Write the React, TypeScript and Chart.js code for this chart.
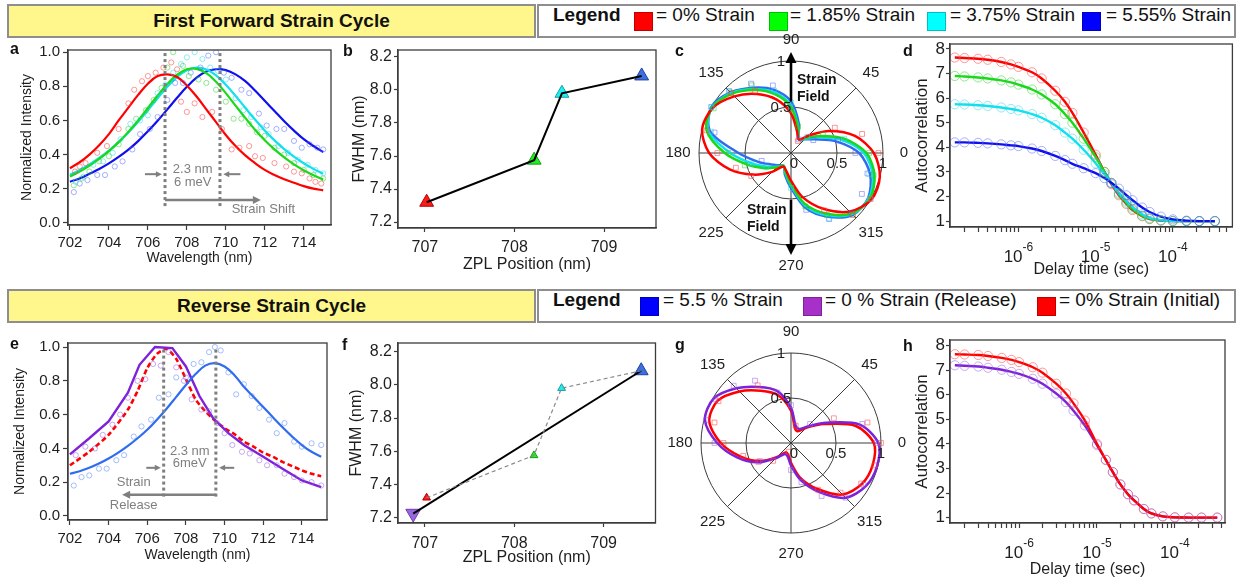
import React, { useEffect, useRef } from 'react';
import { Chart, registerables } from 'chart.js';

Chart.register(...registerables);

const FONT = "'Liberation Sans', Arial, Helvetica, sans-serif";
const INK = '#1e1e1e';
const AXIS = '#3c3c3c';
const NOTE = '#7f7f7f';

const RED = '#ff0000';
const GREEN = '#19d919';
const CYAN = '#11e0ee';
const BLUE = '#1010ee';
const BLUE_E = '#2f6cf0';
const PURPLE = '#7d22d8';
const RED_PT = 'rgba(255,70,70,0.55)';
const GREEN_PT = 'rgba(40,210,40,0.5)';
const CYAN_PT = 'rgba(40,215,235,0.5)';
const BLUE_PT = 'rgba(80,100,255,0.5)';
const BLUE_E_PT = 'rgba(80,130,250,0.5)';
const PURPLE_PT = 'rgba(150,90,230,0.5)';

// ---------------- legends ----------------
const LEGEND_FWD_TEXT = ['= 0% Strain', '= 1.85% Strain', '= 3.75% Strain', '= 5.55% Strain'];
const LEGEND_FWD_COLOR = ['#ff0000', '#00ff00', '#00ffff', '#0000ff'];
const LEGEND_REV_TEXT = ['= 5.5 % Strain', '= 0 % Strain (Release)', '= 0% Strain (Initial)'];
const LEGEND_REV_COLOR = ['#0000ff', '#a630c8', '#ff0000'];

// ---------------- panel a : spectra (forward cycle) ----------------
const WL_FIT = [702, 702.5, 703, 703.5, 704, 704.5, 705, 705.5, 706, 706.5, 707, 707.5, 708, 708.5, 709, 709.5, 710, 710.5, 711, 711.5, 712, 712.5, 713, 713.5, 714, 714.5, 715];
const A_FIT_RED = [0.32, 0.355, 0.40, 0.455, 0.52, 0.60, 0.675, 0.75, 0.815, 0.86, 0.87, 0.855, 0.805, 0.74, 0.665, 0.59, 0.515, 0.45, 0.395, 0.35, 0.31, 0.28, 0.255, 0.235, 0.215, 0.20, 0.19];
const A_FIT_GREEN = [0.272, 0.30, 0.335, 0.374, 0.42, 0.473, 0.533, 0.60, 0.673, 0.746, 0.814, 0.868, 0.90, 0.902, 0.877, 0.827, 0.76, 0.687, 0.615, 0.546, 0.484, 0.43, 0.383, 0.342, 0.308, 0.278, 0.253];
const A_FIT_CYAN = [0.282, 0.31, 0.342, 0.38, 0.423, 0.473, 0.529, 0.592, 0.66, 0.73, 0.797, 0.854, 0.894, 0.91, 0.899, 0.864, 0.809, 0.744, 0.674, 0.605, 0.541, 0.483, 0.432, 0.388, 0.349, 0.316, 0.287];
const A_FIT_BLUE = [0.241, 0.26, 0.287, 0.315, 0.348, 0.386, 0.429, 0.479, 0.536, 0.598, 0.665, 0.733, 0.797, 0.851, 0.887, 0.90, 0.895, 0.87, 0.83, 0.775, 0.715, 0.655, 0.595, 0.54, 0.49, 0.45, 0.415];

const A_PTS_RED_X = [702.26, 702.5, 702.8, 703.4, 703.9, 704.5, 705.0, 705.3, 705.7, 706.0, 706.4, 706.8, 707.2, 707.5, 707.7, 708.0, 708.4, 708.8, 709.3, 709.8, 710.3, 710.7, 711.2, 711.5, 711.9, 712.5, 713.1, 713.5, 713.9, 714.3, 714.6, 714.9];
const A_PTS_RED_Y = [0.30, 0.33, 0.35, 0.41, 0.45, 0.55, 0.70, 0.78, 0.83, 0.86, 0.88, 0.91, 0.94, 0.90, 0.71, 0.65, 0.70, 0.62, 0.65, 0.55, 0.43, 0.44, 0.45, 0.39, 0.38, 0.35, 0.33, 0.30, 0.29, 0.26, 0.24, 0.23];
const A_PTS_GREEN_X = [702.2, 702.6, 703.0, 703.5, 704.0, 704.5, 705.0, 705.4, 705.9, 706.3, 706.7, 707.0, 707.3, 707.8, 708.1, 708.6, 709.0, 709.5, 710.0, 710.4, 710.8, 711.2, 711.6, 712.0, 712.5, 713.0, 713.5, 714.0, 714.5, 715.0];
const A_PTS_GREEN_Y = [0.22, 0.26, 0.30, 0.36, 0.39, 0.46, 0.55, 0.61, 0.66, 0.72, 0.79, 0.91, 1.0, 0.92, 0.86, 0.84, 0.82, 0.78, 0.71, 0.61, 0.61, 0.58, 0.53, 0.51, 0.44, 0.40, 0.35, 0.31, 0.28, 0.26];
const A_PTS_CYAN_X = [702.3, 702.7, 703.2, 703.7, 704.2, 704.6, 705.1, 705.6, 706.0, 706.5, 706.9, 707.3, 707.7, 708.0, 708.4, 708.8, 709.2, 709.6, 710.0, 710.5, 710.9, 711.3, 711.8, 712.2, 712.7, 713.2, 713.7, 714.2, 714.6, 715.0];
const A_PTS_CYAN_Y = [0.24, 0.27, 0.34, 0.36, 0.41, 0.49, 0.58, 0.60, 0.63, 0.76, 0.81, 0.88, 0.93, 0.97, 1.0, 0.96, 0.91, 0.89, 0.84, 0.73, 0.66, 0.62, 0.56, 0.52, 0.45, 0.41, 0.37, 0.34, 0.31, 0.29];
const A_PTS_BLUE_X = [702.2, 702.5, 702.9, 703.4, 703.8, 704.3, 704.7, 705.2, 705.6, 706.1, 706.5, 707.0, 707.4, 707.8, 708.2, 708.7, 709.1, 709.5, 709.9, 710.3, 710.8, 711.2, 711.7, 712.1, 712.6, 713.0, 713.5, 713.9, 714.3, 714.7, 715.0];
const A_PTS_BLUE_Y = [0.18, 0.23, 0.25, 0.28, 0.28, 0.33, 0.36, 0.43, 0.52, 0.55, 0.62, 0.72, 0.82, 0.82, 0.88, 0.91, 0.98, 1.0, 0.88, 0.85, 0.78, 0.76, 0.64, 0.57, 0.55, 0.55, 0.48, 0.44, 0.46, 0.44, 0.43];

// ---------------- panel e : spectra (reverse cycle) ----------------
const E_FIT_BLUE = [0.25, 0.265, 0.285, 0.31, 0.34, 0.375, 0.415, 0.46, 0.51, 0.57, 0.635, 0.705, 0.775, 0.84, 0.89, 0.905, 0.885, 0.835, 0.765, 0.705, 0.645, 0.585, 0.525, 0.47, 0.42, 0.38, 0.35];
const E_PURPLE_X = [702, 703, 704, 705, 705.6, 706.4, 707.3, 708, 708.7, 709.4, 710.2, 711, 712, 713, 714, 715];
const E_PURPLE_FIT = [0.365, 0.46, 0.56, 0.73, 0.895, 1.0, 0.994, 0.885, 0.71, 0.58, 0.49, 0.42, 0.35, 0.28, 0.21, 0.17];
const E_RED_X = [702, 703, 704, 705, 705.5, 706, 706.5, 707, 707.5, 708, 708.5, 709, 709.5, 710, 710.5, 711, 711.5, 712, 712.5, 713, 713.5, 714, 714.5, 715];
const E_RED_FIT = [0.30, 0.38, 0.48, 0.63, 0.74, 0.875, 0.96, 0.99, 0.93, 0.81, 0.69, 0.62, 0.565, 0.52, 0.485, 0.44, 0.41, 0.375, 0.35, 0.32, 0.295, 0.27, 0.25, 0.235];
const E_PTS_PURPLE_X = [702.3, 702.8, 703.3, 703.7, 704.2, 704.6, 705.0, 705.5, 705.9, 706.3, 706.7, 707.1, 707.5, 707.9, 708.3, 708.8, 709.2, 709.6, 710.0, 710.4, 710.9, 711.3, 711.8, 712.2, 712.7, 713.1, 713.6, 714.0, 714.5, 715.0];
const E_PTS_PURPLE_Y = [0.36, 0.41, 0.40, 0.48, 0.54, 0.60, 0.70, 0.80, 0.81, 0.90, 0.89, 0.97, 0.88, 0.80, 0.69, 0.63, 0.62, 0.55, 0.49, 0.42, 0.38, 0.37, 0.33, 0.30, 0.30, 0.25, 0.23, 0.21, 0.20, 0.18];
const E_PTS_BLUE_X = [702.2, 702.6, 703.0, 703.5, 703.9, 704.4, 704.8, 705.3, 705.7, 706.2, 706.6, 707.1, 707.5, 708.0, 708.4, 708.8, 709.2, 709.5, 709.8, 710.2, 710.6, 711.0, 711.4, 711.8, 712.3, 712.7, 713.1, 713.6, 714.0, 714.5, 715.0];
const E_PTS_BLUE_Y = [0.18, 0.23, 0.24, 0.28, 0.28, 0.33, 0.36, 0.47, 0.53, 0.57, 0.70, 0.72, 0.82, 0.82, 0.90, 0.91, 0.97, 1.0, 0.98, 0.85, 0.72, 0.78, 0.71, 0.64, 0.57, 0.49, 0.55, 0.44, 0.41, 0.43, 0.42];

// ---------------- panels b / f : FWHM vs ZPL ----------------
const ZPL_FWD = [707.02, 708.22, 708.53, 709.42];
const FWHM_FWD = [7.32, 7.575, 7.98, 8.085];
const FWD_MARK_FILL = ['#ff1a1a', '#22ee22', '#22eeee', '#3d6fe0'];
const FWD_MARK_EDGE = ['#b00000', '#10a010', '#10a0a8', '#2040a0'];
const ZPL_RELEASE = [706.87];
const FWHM_RELEASE = [7.225];

// ---------------- panels c / g : polarisation (r vs angle, every 15 deg) ----------------
const POLAR_ANGLES = [0, 15, 30, 45, 60, 75, 90, 105, 120, 135, 150, 165, 180, 195, 210, 225, 240, 255, 270, 285, 300, 315, 330, 345];
const POLAR_LABEL_ANGLES = [0, 45, 90, 135, 180, 225, 270, 315];
const C_RED = [0.90, 0.72, 0.48, 0.27, 0.17, 0.25, 0.43, 0.60, 0.74, 0.87, 0.98, 1.0, 0.89, 0.69, 0.47, 0.29, 0.17, 0.20, 0.30, 0.50, 0.70, 0.90, 1.01, 1.0];
const C_GREEN = [0.82, 0.60, 0.37, 0.23, 0.17, 0.29, 0.50, 0.66, 0.79, 0.91, 0.99, 0.95, 0.72, 0.49, 0.33, 0.22, 0.16, 0.22, 0.34, 0.57, 0.76, 0.93, 0.99, 0.94];
const C_CYAN = [0.79, 0.56, 0.34, 0.22, 0.17, 0.30, 0.52, 0.68, 0.80, 0.92, 0.99, 0.93, 0.66, 0.44, 0.30, 0.21, 0.16, 0.23, 0.35, 0.59, 0.78, 0.94, 0.98, 0.92];
const C_BLUE = [0.74, 0.50, 0.30, 0.21, 0.17, 0.33, 0.56, 0.71, 0.82, 0.93, 1.0, 0.91, 0.57, 0.37, 0.25, 0.19, 0.16, 0.25, 0.38, 0.62, 0.80, 0.95, 0.97, 0.89];
const C_PTS_RED = [0.95, 0.80, 0.55, null, 0.15, null, null, null, 0.78, 0.92, null, 0.95, 0.80, 0.62, 0.50, null, null, null, null, null, 0.72, 0.95, 1.0, null];
const C_PTS_GREEN = [0.85, null, 0.40, null, null, 0.30, 0.47, null, 0.85, 0.93, 0.97, null, 0.68, 0.52, null, null, null, null, null, 0.60, 0.78, 0.95, null, 0.93];
const C_PTS_CYAN = [null, 0.60, null, 0.25, null, null, 0.55, 0.70, null, 0.95, 1.0, 0.90, null, 0.45, 0.31, null, null, null, 0.38, null, 0.82, null, 0.99, 0.88];
const C_PTS_BLUE = [0.70, 0.53, 0.28, null, 0.17, null, 0.50, 0.76, 0.87, 0.95, 1.0, 0.86, null, 0.33, null, null, null, null, null, 0.64, 0.83, 0.93, 0.89, 0.86];
const G_PURPLE = [0.97, 0.79, 0.45, 0.26, 0.18, 0.20, 0.39, 0.60, 0.72, 0.86, 0.99, 0.99, 0.82, 0.62, 0.43, 0.24, 0.14, 0.15, 0.25, 0.43, 0.63, 0.86, 0.96, 0.99];
const G_RED = [0.92, 0.74, 0.42, 0.24, 0.15, 0.17, 0.36, 0.55, 0.67, 0.81, 0.94, 0.94, 0.78, 0.58, 0.40, 0.22, 0.12, 0.13, 0.22, 0.40, 0.59, 0.81, 0.91, 0.94];
const G_PTS_PURPLE = [0.95, 0.82, null, 0.30, null, null, 0.42, 0.58, 0.80, 0.90, 0.97, 0.98, 0.85, null, 0.40, null, null, null, 0.30, 0.45, 0.68, 0.86, 0.93, null];
const G_PTS_RED = [1.0, 0.88, 0.55, null, null, 0.20, null, null, 0.74, null, 0.93, 0.88, 0.75, 0.55, 0.42, 0.28, null, 0.10, null, null, 0.60, 0.78, 0.90, 0.96];
const POLAR_R_TICKS = [0, 0.5, 1];

// ---------------- panels d / h : autocorrelation ----------------
const T_G2 = [1.5e-7, 2e-7, 3e-7, 4e-7, 6e-7, 8e-7, 1e-6, 1.5e-6, 2e-6, 3e-6, 4e-6, 5e-6, 7e-6, 1e-5, 1.3e-5, 1.6e-5, 2e-5, 2.5e-5, 3e-5, 4e-5, 5e-5, 7e-5, 1e-4, 1.5e-4, 2.2e-4, 3.5e-4];
const D_RED = [7.65, 7.63, 7.6, 7.56, 7.47, 7.37, 7.27, 7.05, 6.8, 6.3, 5.85, 5.4, 4.6, 3.7, 3.0, 2.5, 2.05, 1.7, 1.45, 1.2, 1.08, 1.02, 1.0, 1.0, 1.0, 1.0];
const D_GREEN = [6.9, 6.88, 6.84, 6.8, 6.72, 6.64, 6.55, 6.35, 6.15, 5.75, 5.35, 5.0, 4.35, 3.6, 3.0, 2.55, 2.1, 1.75, 1.5, 1.22, 1.1, 1.03, 1.0, 1.0, 1.0, 1.0];
const D_CYAN = [5.75, 5.74, 5.71, 5.68, 5.62, 5.56, 5.5, 5.35, 5.2, 4.9, 4.6, 4.35, 3.9, 3.35, 2.9, 2.55, 2.15, 1.82, 1.58, 1.28, 1.13, 1.04, 1.01, 1.0, 1.0, 1.0];
const D_BLUE = [4.2, 4.2, 4.18, 4.16, 4.12, 4.08, 4.05, 3.95, 3.85, 3.65, 3.48, 3.33, 3.15, 2.95, 2.75, 2.55, 2.32, 2.05, 1.85, 1.55, 1.37, 1.18, 1.07, 1.02, 1.0, 1.0];
const H_RED = [7.65, 7.64, 7.62, 7.58, 7.5, 7.42, 7.33, 7.12, 6.9, 6.45, 6.05, 5.65, 4.95, 4.0, 3.35, 2.85, 2.35, 1.95, 1.7, 1.35, 1.17, 1.05, 1.01, 1.0, 1.0, 1.0];
const H_PURPLE = [7.2, 7.18, 7.15, 7.1, 7.02, 6.93, 6.85, 6.65, 6.45, 6.05, 5.7, 5.35, 4.75, 3.95, 3.35, 2.85, 2.35, 1.95, 1.7, 1.35, 1.17, 1.05, 1.01, 1.0, 1.0, 1.0];
const G2_DECADES = [-6, -5, -4];
const G2_TICKS = [-7, -6, -5, -4].flatMap((e) => [1, 2, 3, 4, 5, 6, 7, 8, 9].map((m) => m * Math.pow(10, e)));

// ---------------- helpers ----------------
type Box = { x: number; y: number; w: number; h: number };
type Area = { l: number; t: number; r: number; b: number };
type AxisOpt = {
  type?: string; min: number; max: number; step?: number; fmt?: (v: number) => string; list?: number[];
  title: string; titleSize: number; titleAt: number; tickSize: number; tickPad: number; tickLen: number;
};

const pts = (xs: number[], ys: number[]) => xs.map((x, i) => ({ x, y: ys[i] }));

const RADAR_ORDER = POLAR_ANGLES.map((_, i) => (POLAR_ANGLES.length - i) % POLAR_ANGLES.length);
const RADAR_LABELS = RADAR_ORDER.map((k) => String(POLAR_ANGLES[k]));
const toRadar = (arr: (number | null)[]) => RADAR_ORDER.map((k) => arr[k]);

function arrow(ctx: any, x1: number, y1: number, x2: number, y2: number, color: string, lw: number, head: number) {
  const a = Math.atan2(y2 - y1, x2 - x1);
  const c = Math.cos(a), s = Math.sin(a);
  ctx.save();
  ctx.strokeStyle = color; ctx.fillStyle = color; ctx.lineWidth = lw; ctx.setLineDash([]);
  ctx.beginPath(); ctx.moveTo(x1, y1); ctx.lineTo(x2 - c * head * 0.8, y2 - s * head * 0.8); ctx.stroke();
  ctx.beginPath();
  ctx.moveTo(x2, y2);
  ctx.lineTo(x2 - head * c + head * 0.5 * s, y2 - head * s - head * 0.5 * c);
  ctx.lineTo(x2 - head * c - head * 0.5 * s, y2 - head * s + head * 0.5 * c);
  ctx.closePath(); ctx.fill();
  ctx.restore();
}

const framePlugin = {
  id: 'frame',
  afterDraw(chart: any) {
    const { ctx, chartArea: a } = chart;
    ctx.save();
    ctx.strokeStyle = AXIS; ctx.lineWidth = 1.3;
    ctx.strokeRect(a.left, a.top, a.right - a.left, a.bottom - a.top);
    ctx.restore();
  },
};

function cartesianConfig(box: Box, area: Area, xo: AxisOpt, yo: AxisOpt, datasets: any[], plugins: any[]) {
  const xH = box.y + box.h - area.b;
  const yW = area.l - box.x;
  const mk = (o: AxisOpt, isX: boolean) => {
    const lh = o.titleSize * 1.2;
    return {
      type: o.type || 'linear',
      position: isX ? 'bottom' : 'left',
      min: o.min,
      max: o.max,
      afterFit: (s: any) => { if (isX) s.height = xH; else s.width = yW; },
      afterBuildTicks: (s: any) => { if (o.list) s.ticks = o.list.filter((v) => v >= o.min && v <= o.max).map((v) => ({ value: v })); },
      grid: { display: true, drawOnChartArea: false, drawTicks: true, tickLength: o.tickLen, tickWidth: 1.2, tickColor: AXIS, color: AXIS },
      border: { display: true, color: AXIS, width: 1.3 },
      ticks: {
        stepSize: o.step, includeBounds: false, autoSkip: false, maxRotation: 0, minRotation: 0,
        padding: o.tickPad, color: INK, font: { family: FONT, size: o.tickSize },
        callback: (v: any) => (o.fmt ? o.fmt(Number(v)) : String(v)),
      },
      title: {
        display: true, text: o.title, color: INK, font: { family: FONT, size: o.titleSize },
        padding: isX ? { top: 0, bottom: box.y + box.h - o.titleAt - lh / 2 } : { top: o.titleAt - box.x - lh / 2, bottom: 0 },
      },
    };
  };
  return {
    type: 'scatter',
    data: { datasets },
    options: {
      responsive: false, animation: false, events: [],
      layout: { padding: { left: 0, top: area.t - box.y, right: box.x + box.w - area.r, bottom: 0 } },
      plugins: { legend: { display: false }, tooltip: { enabled: false } },
      scales: { x: mk(xo, true), y: mk(yo, false) },
    },
    plugins: [framePlugin, ...plugins],
  };
}

function polarConfig(box: Box, cx: number, cy: number, R: number, datasets: any[], decor: any) {
  return {
    type: 'radar',
    data: { labels: RADAR_LABELS, datasets },
    options: {
      responsive: false, animation: false, events: [],
      layout: { padding: { left: cx - box.x - R, right: box.x + box.w - cx - R, top: cy - box.y - R, bottom: box.y + box.h - cy - R } },
      plugins: { legend: { display: false }, tooltip: { enabled: false } },
      scales: {
        r: {
          min: 0, max: 1, startAngle: 90, beginAtZero: true,
          ticks: { display: false, stepSize: 0.5 },
          grid: { circular: true, color: AXIS, lineWidth: 1 },
          angleLines: { display: true, color: AXIS, lineWidth: (c: any) => (Number(c.label) % 45 === 0 ? 1 : 0) },
          pointLabels: { display: false },
        },
      },
    },
    plugins: [decor],
  };
}

function polarDecor(withStrain: boolean) {
  return {
    id: 'polarDecor',
    afterDraw(chart: any) {
      const s = chart.scales.r;
      const ctx = chart.ctx;
      const R = s.getDistanceFromCenterForValue(1);
      const idx = (a: number) => RADAR_LABELS.indexOf(String(a));
      ctx.save();
      ctx.fillStyle = INK; ctx.font = `15px ${FONT}`; ctx.textAlign = 'center'; ctx.textBaseline = 'middle';
      for (const a of POLAR_LABEL_ANGLES) {
        const p = s.getPointPosition(idx(a), R + 21);
        ctx.fillText(String(a), p.x, p.y);
      }
      for (const v of POLAR_R_TICKS) {
        const d = s.getDistanceFromCenterForValue(v);
        const p0 = s.getPointPosition(idx(0), d);
        ctx.fillText(String(v), p0.x + (v === 0 ? 3 : 0), p0.y + 11);
        if (v > 0) {
          const p90 = s.getPointPosition(idx(90), d);
          ctx.fillText(String(v), p90.x - 10, p90.y + 1);
        }
      }
      if (withStrain) {
        const a1 = s.getPointPosition(idx(90), s.getDistanceFromCenterForValue(0.56));
        const a2 = s.getPointPosition(idx(90), R + 9);
        arrow(ctx, a1.x, a1.y, a2.x, a2.y, '#000', 2.6, 11);
        const b1 = s.getPointPosition(idx(270), s.getDistanceFromCenterForValue(0.51));
        const b2 = s.getPointPosition(idx(270), R + 10);
        arrow(ctx, b1.x, b1.y, b2.x, b2.y, '#000', 2.6, 11);
        ctx.fillStyle = '#111'; ctx.font = `bold 14px ${FONT}`; ctx.textAlign = 'left';
        ctx.fillText('Strain', s.xCenter + 6, s.yCenter - 73);
        ctx.fillText('Field', s.xCenter + 6, s.yCenter - 56);
        ctx.fillText('Strain', s.xCenter - 44, s.yCenter + 57);
        ctx.fillText('Field', s.xCenter - 44, s.yCenter + 74);
      }
      ctx.restore();
    },
  };
}

function decadeLabels(fontSize: number) {
  return {
    id: 'decadeLabels',
    afterDraw(chart: any) {
      const { ctx, scales: { x }, chartArea } = chart;
      ctx.save(); ctx.fillStyle = INK; ctx.textBaseline = 'alphabetic'; ctx.textAlign = 'left';
      for (const e of G2_DECADES) {
        const px = x.getPixelForValue(Math.pow(10, e));
        const sup = String(e);
        ctx.font = `${fontSize}px ${FONT}`; const w1 = ctx.measureText('10').width;
        ctx.font = `${Math.round(fontSize * 0.7)}px ${FONT}`; const w2 = ctx.measureText(sup).width;
        const x0 = px - (w1 + w2) / 2;
        ctx.font = `${fontSize}px ${FONT}`; ctx.fillText('10', x0, chartArea.bottom + 35);
        ctx.font = `${Math.round(fontSize * 0.7)}px ${FONT}`; ctx.fillText(sup, x0 + w1, chartArea.bottom + 24);
      }
      ctx.restore();
    },
  };
}

const annotA = {
  id: 'annotA',
  afterDatasetsDraw(chart: any) {
    const { ctx, scales: { x, y } } = chart;
    const X = (v: number) => x.getPixelForValue(v);
    const Y = (v: number) => y.getPixelForValue(v);
    ctx.save();
    ctx.strokeStyle = NOTE; ctx.lineWidth = 3; ctx.setLineDash([3, 3]);
    for (const v of [706.88, 709.7]) {
      ctx.beginPath(); ctx.moveTo(X(v), Y(0.995)); ctx.lineTo(X(v), Y(0.085)); ctx.stroke();
    }
    ctx.setLineDash([]);
    arrow(ctx, X(705.85), Y(0.285), X(706.72), Y(0.285), NOTE, 2, 6);
    arrow(ctx, X(710.75), Y(0.285), X(709.87), Y(0.285), NOTE, 2, 6);
    arrow(ctx, X(706.88), Y(0.134), X(711.8), Y(0.134), NOTE, 2.5, 8);
    ctx.fillStyle = NOTE; ctx.font = `13px ${FONT}`; ctx.textBaseline = 'middle'; ctx.textAlign = 'center';
    ctx.fillText('2.3 nm', X(708.3), Y(0.31));
    ctx.fillText('6 meV', X(708.3), Y(0.235));
    ctx.textAlign = 'left';
    ctx.fillText('Strain Shift', X(710.3), Y(0.076));
    ctx.restore();
  },
};

const annotE = {
  id: 'annotE',
  afterDatasetsDraw(chart: any) {
    const { ctx, scales: { x, y } } = chart;
    const X = (v: number) => x.getPixelForValue(v);
    const Y = (v: number) => y.getPixelForValue(v);
    ctx.save();
    ctx.strokeStyle = NOTE; ctx.lineWidth = 3; ctx.setLineDash([3, 3]);
    for (const v of [706.85, 709.55]) {
      ctx.beginPath(); ctx.moveTo(X(v), Y(0.985)); ctx.lineTo(X(v), Y(0.105)); ctx.stroke();
    }
    ctx.setLineDash([]);
    arrow(ctx, X(705.95), Y(0.285), X(706.7), Y(0.285), NOTE, 2, 6);
    arrow(ctx, X(710.5), Y(0.285), X(709.72), Y(0.285), NOTE, 2, 6);
    arrow(ctx, X(709.55), Y(0.125), X(704.7), Y(0.125), NOTE, 2.5, 8);
    ctx.fillStyle = NOTE; ctx.font = `13px ${FONT}`; ctx.textBaseline = 'middle'; ctx.textAlign = 'center';
    ctx.fillText('2.3 nm', X(708.2), Y(0.38));
    ctx.fillText('6meV', X(708.2), Y(0.31));
    ctx.fillText('Strain', X(705.3), Y(0.2));
    ctx.fillText('Release', X(705.3), Y(0.065));
    ctx.restore();
  },
};

const fitLine = (data: any[], color: string, extra: any = {}) => ({
  data, showLine: true, borderColor: color, borderWidth: 2.2, pointRadius: 0, tension: 0.4, ...extra,
});
const ptSet = (data: any[], color: string, r = 2.6) => ({
  data, showLine: false, pointRadius: r, pointBorderWidth: 1, pointBorderColor: color, pointBackgroundColor: 'rgba(0,0,0,0)', pointStyle: 'circle',
});

// ---------------- panel geometry ----------------
const BOX_A: Box = { x: 0, y: 30, w: 338, h: 240 };
const AREA_A: Area = { l: 68, t: 50, r: 331, b: 225 };
const BOX_B: Box = { x: 340, y: 30, w: 325, h: 255 };
const AREA_B: Area = { l: 398, t: 50, r: 658, b: 228 };
const BOX_C: Box = { x: 651, y: 23, w: 280, h: 260 };
const BOX_D: Box = { x: 895, y: 30, w: 343, h: 255 };
const AREA_D: Area = { l: 950, t: 44, r: 1235, b: 227 };
const BOX_E: Box = { x: 0, y: 325, w: 338, h: 258 };
const AREA_E: Area = { l: 68, t: 343, r: 327, b: 520 };
const BOX_F: Box = { x: 340, y: 325, w: 325, h: 258 };
const AREA_F: Area = { l: 398, t: 343, r: 658, b: 523 };
const BOX_G: Box = { x: 651, y: 318, w: 280, h: 250 };
const BOX_H: Box = { x: 895, y: 325, w: 343, h: 258 };
const AREA_H: Area = { l: 950, t: 340, r: 1225, b: 523 };

const f1 = (v: number) => v.toFixed(1);

const makeA = () => cartesianConfig(BOX_A, AREA_A,
  { min: 701.9, max: 715.4, step: 2, title: 'Wavelength (nm)', titleSize: 14, titleAt: 258, tickSize: 15, tickPad: 4, tickLen: 5 },
  { min: -0.013, max: 1.013, step: 0.2, fmt: f1, title: 'Normalized Intensity', titleSize: 14, titleAt: 27, tickSize: 15, tickPad: 3, tickLen: 5 },
  [
    ptSet(pts(A_PTS_RED_X, A_PTS_RED_Y), RED_PT),
    ptSet(pts(A_PTS_GREEN_X, A_PTS_GREEN_Y), GREEN_PT),
    ptSet(pts(A_PTS_CYAN_X, A_PTS_CYAN_Y), CYAN_PT),
    ptSet(pts(A_PTS_BLUE_X, A_PTS_BLUE_Y), BLUE_PT),
    fitLine(pts(WL_FIT, A_FIT_RED), RED),
    fitLine(pts(WL_FIT, A_FIT_GREEN), GREEN),
    fitLine(pts(WL_FIT, A_FIT_CYAN), CYAN),
    fitLine(pts(WL_FIT, A_FIT_BLUE), BLUE),
  ], [annotA]);

const makeE = () => cartesianConfig(BOX_E, AREA_E,
  { min: 701.9, max: 715.3, step: 2, title: 'Wavelength (nm)', titleSize: 14, titleAt: 555, tickSize: 15, tickPad: 5, tickLen: 5 },
  { min: -0.024, max: 1.024, step: 0.2, fmt: f1, title: 'Normalized Intensity', titleSize: 14, titleAt: 20, tickSize: 15, tickPad: 3, tickLen: 5 },
  [
    ptSet(pts(E_PTS_PURPLE_X, E_PTS_PURPLE_Y), PURPLE_PT),
    ptSet(pts(E_PTS_BLUE_X, E_PTS_BLUE_Y), BLUE_E_PT),
    fitLine(pts(WL_FIT, E_FIT_BLUE), BLUE_E),
    fitLine(pts(E_PURPLE_X, E_PURPLE_FIT), PURPLE, { tension: 0, borderWidth: 2.4 }),
    fitLine(pts(E_RED_X, E_RED_FIT), RED, { tension: 0.2, borderWidth: 2.6, borderDash: [5, 3] }),
  ], [annotE]);

const markerSet = (xs: number[], ys: number[], fill: string[], edge: string[], r: number, rot = 0) => ({
  data: pts(xs, ys), showLine: false, pointStyle: 'triangle', pointRadius: r, pointRotation: rot,
  pointBackgroundColor: fill, pointBorderColor: edge, pointBorderWidth: 1,
});

const makeB = () => cartesianConfig(BOX_B, AREA_B,
  { min: 706.7, max: 709.58, step: 1, title: 'ZPL Position (nm)', titleSize: 16, titleAt: 265, tickSize: 16, tickPad: 6, tickLen: 4 },
  { min: 7.164, max: 8.242, step: 0.2, fmt: f1, title: 'FWHM (nm)', titleSize: 16, titleAt: 360, tickSize: 16, tickPad: 2, tickLen: 4 },
  [
    { data: pts(ZPL_FWD, FWHM_FWD), showLine: true, borderColor: '#000', borderWidth: 2, pointRadius: 0 },
    markerSet(ZPL_FWD, FWHM_FWD, FWD_MARK_FILL, FWD_MARK_EDGE, 8),
  ], []);

const makeF = () => cartesianConfig(BOX_F, AREA_F,
  { min: 706.7, max: 709.58, step: 1, title: 'ZPL Position (nm)', titleSize: 16, titleAt: 558, tickSize: 16, tickPad: 7, tickLen: 4 },
  { min: 7.168, max: 8.252, step: 0.2, fmt: f1, title: 'FWHM (nm)', titleSize: 16, titleAt: 357, tickSize: 16, tickPad: 2, tickLen: 4 },
  [
    { data: pts(ZPL_FWD, FWHM_FWD), showLine: true, borderColor: '#8a8a8a', borderWidth: 1.2, borderDash: [4, 3], pointRadius: 0 },
    { data: pts([ZPL_RELEASE[0], ZPL_FWD[3]], [FWHM_RELEASE[0], FWHM_FWD[3]]), showLine: true, borderColor: '#000', borderWidth: 2, pointRadius: 0 },
    markerSet(ZPL_FWD.slice(0, 3), FWHM_FWD.slice(0, 3), FWD_MARK_FILL.slice(0, 3), FWD_MARK_EDGE.slice(0, 3), 4.5),
    markerSet([ZPL_FWD[3]], [FWHM_FWD[3]], [FWD_MARK_FILL[3]], [FWD_MARK_EDGE[3]], 8),
    markerSet(ZPL_RELEASE, FWHM_RELEASE, ['#9a66e0'], ['#6a3cb0'], 8.5, 180),
  ], []);

const polarLine = (arr: number[], color: string) => ({
  data: toRadar(arr), borderColor: color, borderWidth: 2.5, pointRadius: 0, fill: false, tension: 0.3, backgroundColor: 'rgba(0,0,0,0)',
});
const polarPts = (arr: (number | null)[], color: string) => ({
  data: toRadar(arr), showLine: false, pointStyle: 'rect', pointRadius: 3.4, pointBorderWidth: 1,
  pointBorderColor: color, pointBackgroundColor: 'rgba(0,0,0,0)', borderWidth: 0, fill: false,
});

const makeC = () => polarConfig(BOX_C, 791, 153, 92, [
  polarPts(C_PTS_RED, RED_PT), polarPts(C_PTS_GREEN, GREEN_PT), polarPts(C_PTS_CYAN, CYAN_PT), polarPts(C_PTS_BLUE, BLUE_PT),
  polarLine(C_RED, RED), polarLine(C_GREEN, GREEN), polarLine(C_CYAN, CYAN), polarLine(C_BLUE, BLUE_E),
], polarDecor(true));

const makeG = () => polarConfig(BOX_G, 791, 443, 90, [
  polarPts(G_PTS_PURPLE, PURPLE_PT), polarPts(G_PTS_RED, RED_PT),
  polarLine(G_PURPLE, PURPLE), polarLine(G_RED, RED),
], polarDecor(false));

const g2Pts = (ys: number[], color: string) => ptSet(pts(T_G2, ys), color, 4.6);
const g2Line = (ys: number[], color: string) => fitLine(pts(T_G2, ys), color, { borderWidth: 2.4, tension: 0.35 });

const makeD = () => cartesianConfig(BOX_D, AREA_D,
  { type: 'logarithmic', min: 1.3e-7, max: 5.9e-4, list: G2_TICKS, fmt: () => '', title: 'Delay time (sec)', titleSize: 16, titleAt: 270, tickSize: 16, tickPad: 2, tickLen: 5 },
  { min: 0.76, max: 8.2, step: 1, title: 'Autocorrelation', titleSize: 17, titleAt: 922, tickSize: 17, tickPad: 1, tickLen: 4 },
  [
    g2Pts(D_BLUE, BLUE_PT), g2Pts(D_CYAN, CYAN_PT), g2Pts(D_GREEN, GREEN_PT), g2Pts(D_RED, RED_PT),
    g2Line(D_BLUE, BLUE), g2Line(D_CYAN, CYAN), g2Line(D_GREEN, GREEN), g2Line(D_RED, RED),
  ], [decadeLabels(17)]);

const makeH = () => cartesianConfig(BOX_H, AREA_H,
  { type: 'logarithmic', min: 1.3e-7, max: 4.4e-4, list: G2_TICKS, fmt: () => '', title: 'Delay time (sec)', titleSize: 16, titleAt: 570, tickSize: 16, tickPad: 2, tickLen: 5 },
  { min: 0.78, max: 8.23, step: 1, title: 'Autocorrelation', titleSize: 17, titleAt: 922, tickSize: 17, tickPad: 1, tickLen: 4 },
  [
    g2Pts(H_PURPLE, PURPLE_PT), g2Pts(H_RED, RED_PT),
    g2Line(H_RED, RED), g2Line(H_PURPLE, PURPLE),
  ], [decadeLabels(17)]);

// ---------------- React components ----------------
function ChartCanvas({ box, make }: { box: Box; make: () => any }) {
  const ref = useRef<HTMLCanvasElement | null>(null);
  useEffect(() => {
    const chart = new Chart(ref.current as HTMLCanvasElement, make());
    return () => chart.destroy();
  }, []);
  return (
    <canvas ref={ref} width={box.w} height={box.h}
      style={{ position: 'absolute', left: box.x, top: box.y, width: box.w, height: box.h }} />
  );
}

function HeaderBar({ top, title, texts, colors, squares, textX }: {
  top: number; title: string; texts: string[]; colors: string[]; squares: number[]; textX: number[];
}) {
  const h = 34;
  return (
    <>
      <div style={{
        position: 'absolute', left: 7, top, width: 529, height: h, boxSizing: 'border-box',
        background: '#fff68c', border: '2px solid #8e8e8e', display: 'flex', alignItems: 'center',
        justifyContent: 'center', font: `bold 19px ${FONT}`, color: '#111',
      }}>{title}</div>
      <div style={{
        position: 'absolute', left: 537, top, width: 699, height: h, boxSizing: 'border-box',
        background: '#fff', border: '2px solid #8e8e8e',
      }} />
      <div style={{ position: 'absolute', left: 553, top, height: h, lineHeight: `${h}px`, font: `bold 19px ${FONT}`, color: '#111' }}>Legend</div>
      {texts.map((t, i) => (
        <React.Fragment key={i}>
          <div style={{
            position: 'absolute', left: squares[i], top: top + 7.5, width: 19, height: 19,
            background: colors[i], boxSizing: 'border-box', border: '1px solid rgba(0,0,0,0.25)',
          }} />
          <div style={{ position: 'absolute', left: textX[i], top, height: h, lineHeight: `${h}px`, font: `19px ${FONT}`, color: '#111', whiteSpace: 'nowrap' }}>{t}</div>
        </React.Fragment>
      ))}
    </>
  );
}

const PANEL_LETTERS: [string, number, number][] = [
  ['a', 10, 41], ['b', 343, 43], ['c', 675, 43], ['d', 903, 43],
  ['e', 10, 336], ['f', 342, 337], ['g', 675, 337], ['h', 903, 338],
];

export default function App() {
  return (
    <div style={{ position: 'fixed', left: 0, top: 0, width: 1238, height: 583, background: '#fff', overflow: 'hidden' }}>
      <HeaderBar top={4} title="First Forward Strain Cycle" texts={LEGEND_FWD_TEXT} colors={LEGEND_FWD_COLOR}
        squares={[634, 769, 927, 1082]} textX={[656, 790, 950, 1106]} />
      <HeaderBar top={289} title="Reverse Strain Cycle" texts={LEGEND_REV_TEXT} colors={LEGEND_REV_COLOR}
        squares={[640, 803, 1037]} textX={[663, 825, 1059]} />
      <ChartCanvas box={BOX_A} make={makeA} />
      <ChartCanvas box={BOX_B} make={makeB} />
      <ChartCanvas box={BOX_D} make={makeD} />
      <ChartCanvas box={BOX_C} make={makeC} />
      <ChartCanvas box={BOX_E} make={makeE} />
      <ChartCanvas box={BOX_F} make={makeF} />
      <ChartCanvas box={BOX_H} make={makeH} />
      <ChartCanvas box={BOX_G} make={makeG} />
      {PANEL_LETTERS.map(([t, x, y]) => (
        <div key={t} style={{ position: 'absolute', left: x, top: y, font: `bold 16px ${FONT}`, lineHeight: '16px', color: '#111' }}>{t}</div>
      ))}
    </div>
  );
}
